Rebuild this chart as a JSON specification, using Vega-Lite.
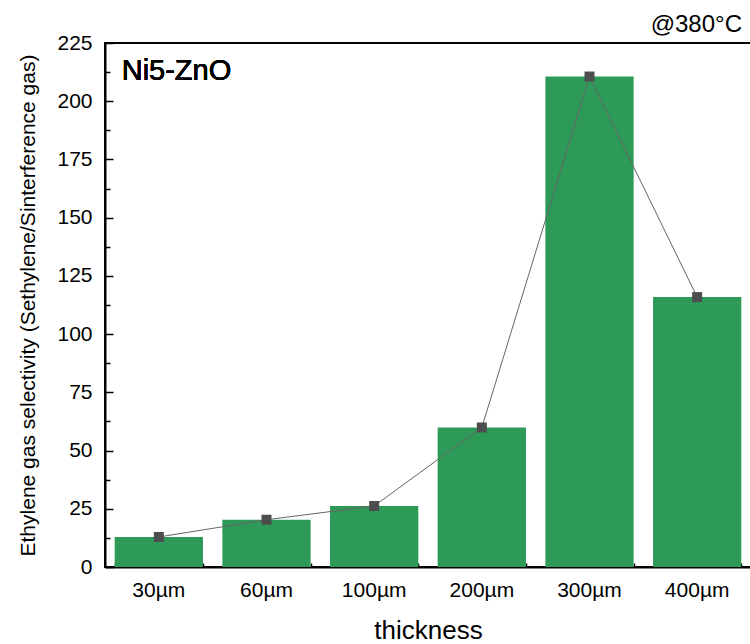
{
  "$schema": "https://vega.github.io/schema/vega-lite/v6.json",
  "autosize": "none",
  "width": 646,
  "height": 524,
  "padding": {"left": 105, "top": 43, "right": 0, "bottom": 77},
  "background": "white",
  "config": {
    "view": {"stroke": "black", "strokeWidth": 2},
    "font": "Liberation Sans",
    "axis": {"domainColor": "black", "domainWidth": 2, "tickColor": "black", "tickWidth": 1.5, "labelColor": "black", "titleColor": "black", "grid": false, "labelFont": "Liberation Sans", "titleFont": "Liberation Sans", "titleFontWeight": "normal"}
  },
  "title": {"text": "@380°C", "anchor": "end", "fontSize": 24, "fontWeight": "normal", "font": "Liberation Sans", "color": "black", "offset": -5, "dx": -9},
  "data": {"values": [
    {"thickness": "30µm", "value": 12.9},
    {"thickness": "60µm", "value": 20.3},
    {"thickness": "100µm", "value": 26.2},
    {"thickness": "200µm", "value": 59.9},
    {"thickness": "300µm", "value": 210.6},
    {"thickness": "400µm", "value": 115.9}
  ]},
  "resolve": {"axis": {"x": "independent", "y": "independent"}},
  "layer": [
    {
      "mark": {"type": "bar", "color": "#2d9a58"},
      "encoding": {
        "x": {"field": "thickness", "type": "nominal", "sort": null,
          "scale": {"paddingInner": 0.18, "paddingOuter": 0.09},
          "axis": {"orient": "bottom", "title": "thickness", "titleFontSize": 26, "titlePadding": 17, "labelFontSize": 21, "labelAngle": 0, "labelPadding": 19, "tickSize": -7}},
        "y": {"field": "value", "type": "quantitative",
          "scale": {"domain": [0, 225], "nice": false, "zero": true},
          "axis": {"orient": "left", "values": [0, 25, 50, 75, 100, 125, 150, 175, 200, 225], "title": "Ethylene gas selectivity (Sethylene/Sinterference gas)", "titleFontSize": 21, "titlePadding": 18, "labelFontSize": 21, "labelPadding": 21, "tickSize": -8}}
      }
    },
    {
      "mark": {"type": "point", "opacity": 0},
      "encoding": {
        "x": {"field": "thickness", "type": "nominal", "sort": null,
          "axis": {"orient": "bottom", "labels": false, "title": null, "domain": false, "tickBand": "extent", "tickSize": -4}},
        "y": {"field": "value", "type": "quantitative",
          "axis": {"orient": "left", "labels": false, "title": null, "domain": false, "values": [12.5, 37.5, 62.5, 87.5, 112.5, 137.5, 162.5, 187.5, 212.5], "tickSize": -5}}
      }
    },
    {
      "mark": {"type": "line", "color": "#666666", "strokeWidth": 1},
      "encoding": {
        "x": {"field": "thickness", "type": "nominal", "sort": null, "axis": null},
        "y": {"field": "value", "type": "quantitative", "axis": null}
      }
    },
    {
      "mark": {"type": "point", "shape": "square", "filled": true, "size": 100, "color": "#4d4d4d", "opacity": 1},
      "encoding": {
        "x": {"field": "thickness", "type": "nominal", "sort": null, "axis": null},
        "y": {"field": "value", "type": "quantitative", "axis": null}
      }
    },
    {
      "mark": {"type": "text", "text": "Ni5-ZnO", "fontSize": 29, "align": "left", "baseline": "middle", "dx": 7, "color": "black", "font": "Liberation Sans"},
      "encoding": {
        "x": {"datum": "30µm", "type": "nominal", "bandPosition": 0, "axis": null},
        "y": {"datum": 213, "type": "quantitative", "axis": null}
      }
    }
  ]
}
